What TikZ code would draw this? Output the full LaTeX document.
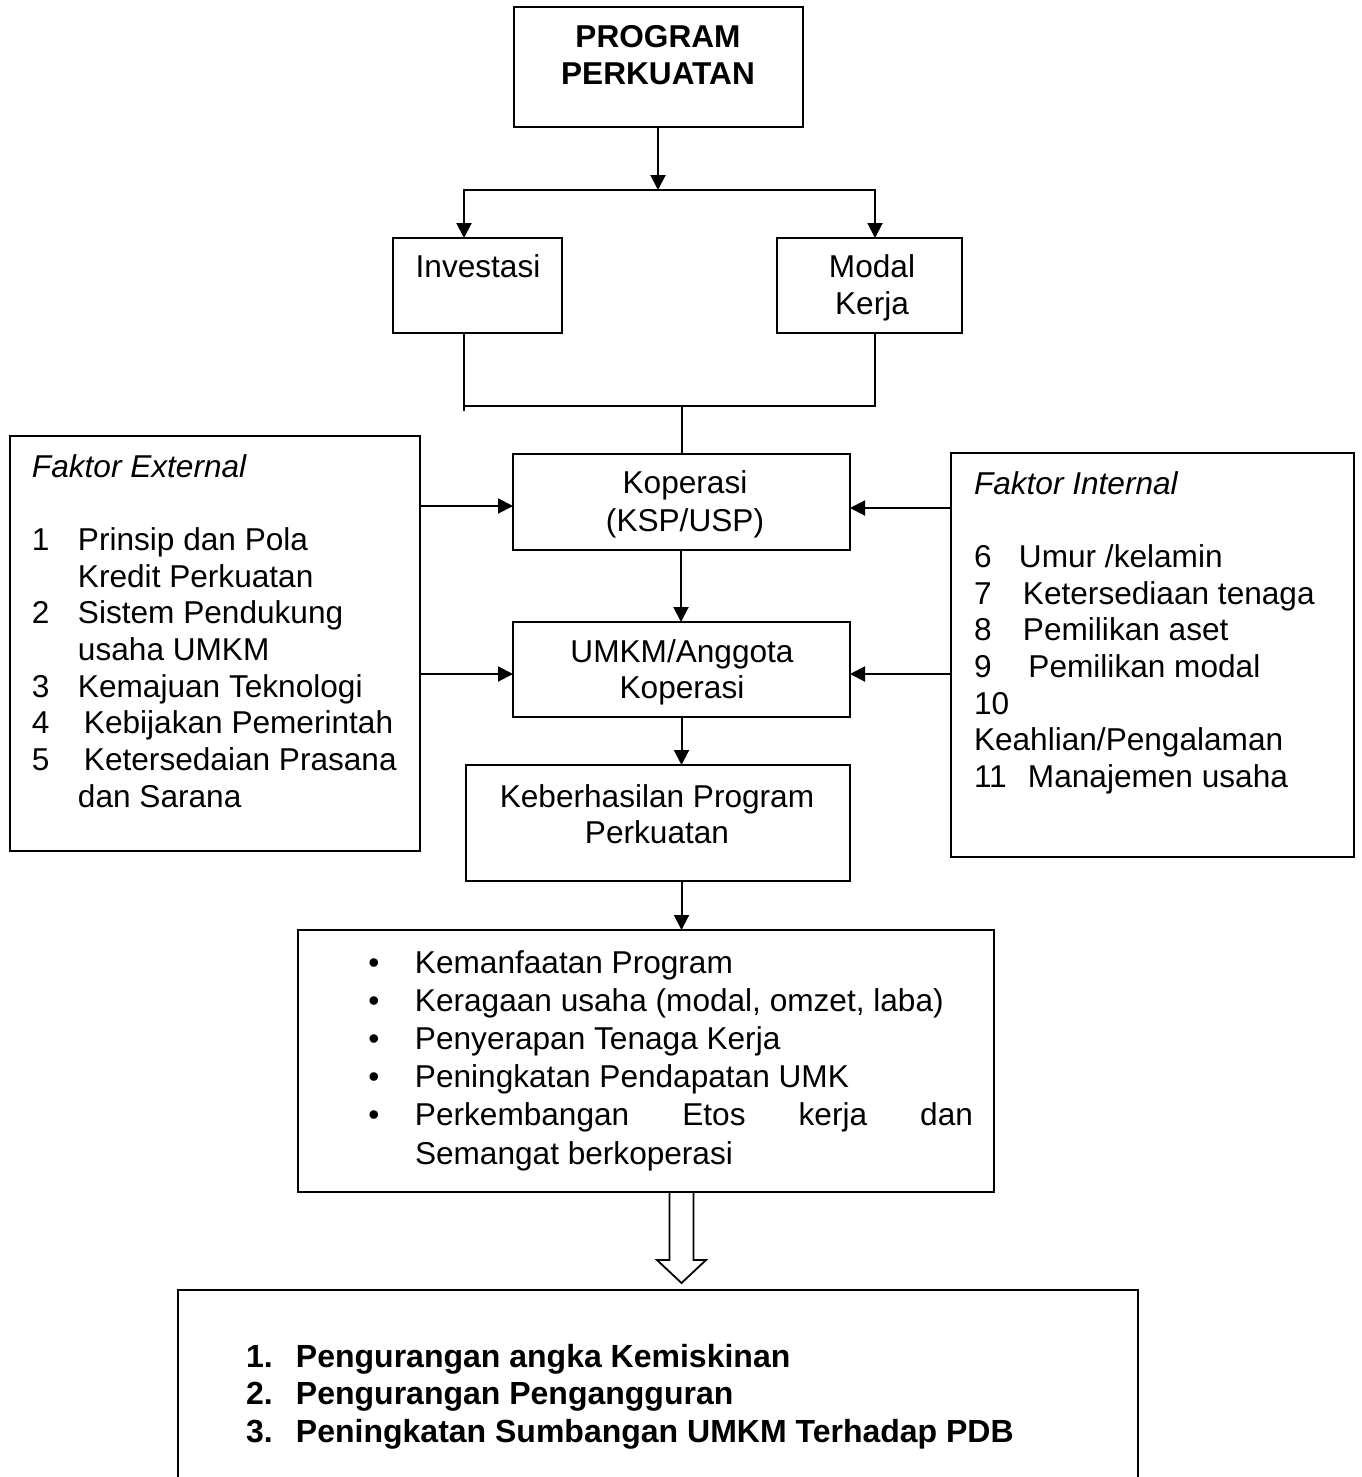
\documentclass[tikz,border=0pt]{standalone}
\usepackage{fontspec}
\setmainfont{Liberation Sans}
\usetikzlibrary{arrows.meta,calc}
\begin{document}
\begin{tikzpicture}[x=0.5pt,y=-0.5pt, line width=1pt,
  box/.style={draw, rectangle, inner sep=0pt, outer sep=0pt},
  txt/.style={inner sep=0pt, outer sep=0pt},
  arr/.style={-{Triangle[length=7.5pt,width=7.5pt]}},
]
\useasboundingbox (0,0) rectangle (1361,1477);
\renewcommand\arraystretch{1}
% boxes
\node[box, minimum width=144.5pt, minimum height=60pt] (prog) at (658,67.5) {};
\node[box, minimum width=84.5pt, minimum height=47.5pt] (inv) at (477.5,285.5) {};
\node[box, minimum width=92.5pt, minimum height=47.5pt] (mod) at (869.5,285.5) {};
\node[box, minimum width=168.5pt, minimum height=48pt] (kop) at (681.5,502) {};
\node[box, minimum width=168.5pt, minimum height=47.5pt] (umkm) at (681.5,669.5) {};
\node[box, minimum width=192pt, minimum height=58pt] (keb) at (658,823) {};
\node[box, minimum width=348pt, minimum height=131pt] (ben) at (646,1061) {};
\node[box, minimum width=205pt, minimum height=207.5pt] (ext) at (215,643.5) {};
\node[box, minimum width=201.5pt, minimum height=202pt] (int) at (1152.5,655) {};
\node[txt, minimum width=480pt, minimum height=93.5pt] (fin) at (658,1383.5) {};
\draw (fin.south west) |- (fin.north east) -- (fin.south east);

% texts
\node[txt, anchor=base, font=\fontsize{15.8}{18.5}\selectfont\bfseries] (progt) at (658,48)
  {\begin{tabular}[t]{@{}c@{}}PROGRAM\\PERKUATAN\end{tabular}};
\node[txt, anchor=base, font=\fontsize{15.8}{18.5}\selectfont] (invt) at (478,277) {Investasi};
\node[txt, anchor=base, font=\fontsize{15.8}{18.5}\selectfont] (modt) at (872,277)
  {\begin{tabular}[t]{@{}c@{}}Modal\\Kerja\end{tabular}};
\node[txt, anchor=base, font=\fontsize{15.8}{19}\selectfont] (kopt) at (685,493)
  {\begin{tabular}[t]{@{}c@{}}Koperasi\\(KSP/USP)\end{tabular}};
\node[txt, anchor=base, font=\fontsize{15.8}{18}\selectfont] (umkmt) at (682,662)
  {\begin{tabular}[t]{@{}c@{}}UMKM/Anggota\\Koperasi\end{tabular}};
\node[txt, anchor=base, font=\fontsize{15.8}{18}\selectfont] (kebt) at (657,807)
  {\begin{tabular}[t]{@{}c@{}}Keberhasilan Program\\Perkuatan\end{tabular}};
\node[txt, anchor=base west, font=\fontsize{15.8}{18.35}\selectfont] (extt) at (32,477)
  {\begin{tabular}[t]{@{}l@{}}\itshape Faktor External\\
   \\
   \makebox[23pt][l]{1}Prinsip dan Pola\\
   \hspace*{23pt}Kredit Perkuatan\\
   \makebox[23pt][l]{2}Sistem Pendukung\\
   \hspace*{23pt}usaha UMKM\\
   \makebox[23pt][l]{3}Kemajuan Teknologi\\
   \makebox[26pt][l]{4}Kebijakan Pemerintah\\
   \makebox[26pt][l]{5}Ketersedaian Prasana\\
   \hspace*{23pt}dan Sarana\end{tabular}};
\node[txt, anchor=base west, font=\fontsize{15.8}{18.35}\selectfont] (intt) at (974,494)
  {\begin{tabular}[t]{@{}l@{}}\itshape Faktor Internal\\
   \\
   \makebox[22.5pt][l]{6}Umur /kelamin\\
   \makebox[24.5pt][l]{7}Ketersediaan tenaga\\
   \makebox[24.5pt][l]{8}Pemilikan aset\\
   \makebox[27.25pt][l]{9}Pemilikan modal\\
   10\\
   Keahlian/Pengalaman\\
   \makebox[27pt][l]{11}Manajemen usaha\end{tabular}};
\node[txt, anchor=base west, font=\fontsize{15.8}{19.1}\selectfont] (bent) at (333,973)
  {\begin{tabular}[t]{@{}l@{}l@{}}
   \makebox[41pt]{\textbullet} & Kemanfaatan Program\\
   \makebox[41pt]{\textbullet} & Keragaan usaha (modal, omzet, laba)\\
   \makebox[41pt]{\textbullet} & Penyerapan Tenaga Kerja\\
   \makebox[41pt]{\textbullet} & Peningkatan Pendapatan UMK\\
   \makebox[41pt]{\textbullet} & \makebox[279pt][s]{Perkembangan Etos kerja dan}\\
    & Semangat berkoperasi\end{tabular}};
\node[txt, anchor=base west, font=\fontsize{16}{18.75}\selectfont\bfseries] (fint) at (246,1367)
  {\begin{tabular}[t]{@{}l@{}}
   \makebox[25pt][l]{1.}Pengurangan angka Kemiskinan\\
   \makebox[25pt][l]{2.}Pengurangan Pengangguran\\
   \makebox[25pt][l]{3.}Peningkatan Sumbangan UMKM Terhadap PDB\end{tabular}};

% connectors
\coordinate (split) at (658,190);
\coordinate (join) at (682,406);
\draw[arr] (prog.south) -- (split);
\draw[arr] (split) -| ([xshift=-6.75pt]inv.north);
\draw[arr] (split) -| ([xshift=2.75pt]mod.north);
\draw ([xshift=-6.75pt]inv.south) -- ([xshift=-6.75pt,yshift=-2.5pt]inv.south |- join);
\draw ([xshift=2.75pt]mod.south) |- ([xshift=-6.75pt]inv.south |- join);
\draw (join) -- (join |- kop.north);
\draw[arr] ([xshift=-0.25pt]kop.south) -- ([xshift=-0.25pt]umkm.north);
\draw[arr] (umkm.south) -- (umkm.south |- keb.north);
\draw[arr] (umkm.south |- keb.south) -- (umkm.south |- ben.north);
\draw[arr] ([yshift=-2pt]kop.west -| ext.east) -- ([yshift=-2pt]kop.west);
\draw[arr] ([yshift=-2.25pt]umkm.west -| ext.east) -- ([yshift=-2.25pt]umkm.west);
\draw[arr] ([yshift=-3pt]kop.east -| int.west) -- ([yshift=-3pt]kop.east);
\draw[arr] ([yshift=-2.25pt]umkm.east -| int.west) -- ([yshift=-2.25pt]umkm.east);
% hollow arrow
\coordinate (ha) at (ben.south -| 681.5,0);
\draw[line width=0.9pt, line join=miter]
  ($(ha)+(-12,0)$) -- ($(ha)+(-12,68)$) -- ($(ha)+(-24.5,68)$)
  -- ($(ha)+(0,91)$) -- ($(ha)+(24.5,68)$) -- ($(ha)+(12,68)$) -- ($(ha)+(12,0)$);
\end{tikzpicture}
\end{document}
